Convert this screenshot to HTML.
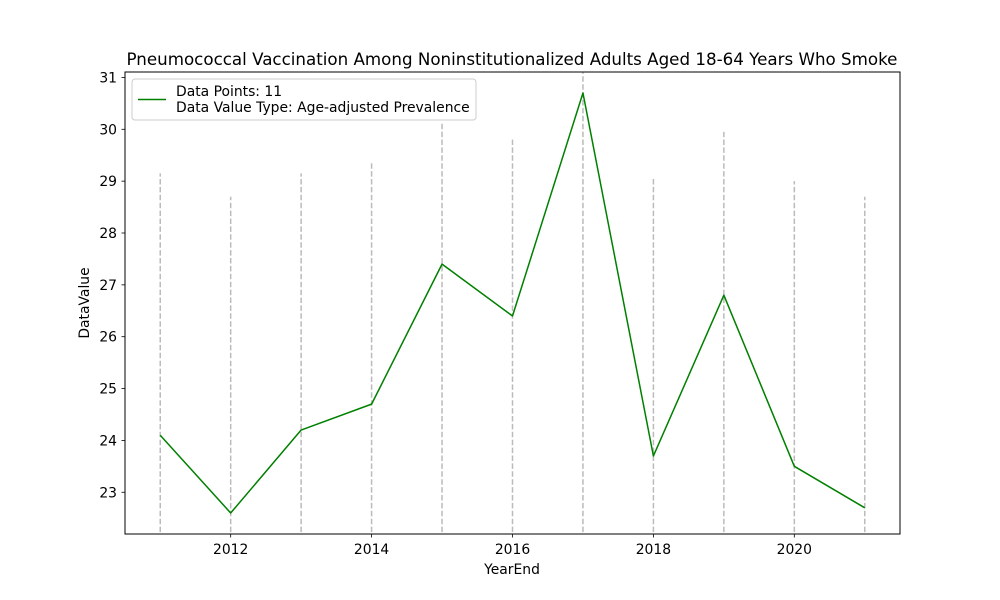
<!DOCTYPE html>
<html><head><meta charset="utf-8"><style>
html,body{margin:0;padding:0;background:#fff;width:1000px;height:600px;overflow:hidden;}
svg{display:block;font-family:"DejaVu Sans","Liberation Sans",sans-serif;}
</style></head><body>
<svg id="chart" width="1000" height="600" viewBox="0 0 1000 600">
<rect width="1000" height="600" fill="#fff"/>
<text x="512" y="65" text-anchor="middle" font-size="16.7" fill="#000">Pneumococcal Vaccination Among Noninstitutionalized Adults Aged 18-64 Years Who Smoke</text>
<defs><clipPath id="plotclip"><rect x="125" y="72" width="775" height="462"/></clipPath></defs>
<g id="vlines" clip-path="url(#plotclip)"></g>
<g id="series" clip-path="url(#plotclip)"></g>
<rect x="125" y="72" width="775" height="462" fill="none" stroke="#000" stroke-width="1"/>
<g id="xticks"></g>
<g id="yticks"></g>
<text x="512" y="574" text-anchor="middle" font-size="13.9">YearEnd</text>
<text x="0" y="0" transform="translate(89,303) rotate(-90)" text-anchor="middle" font-size="13.9">DataValue</text>
<g>
<rect x="132" y="79" width="344" height="41" rx="3" fill="#fff" fill-opacity="0.8" stroke="#ccc" stroke-width="1"/>
<line x1="138" y1="99.5" x2="166" y2="99.5" stroke="#008000" stroke-width="1.5"/>
<text x="176" y="96" font-size="13.9">Data Points: 11</text>
<text x="176" y="112" font-size="13.9">Data Value Type: Age-adjusted Prevalence</text>
</g>
</svg>
<script>
const years = [2011,2012,2013,2014,2015,2016,2017,2018,2019,2020,2021];
const values = [24.1,22.6,24.2,24.7,27.4,26.4,30.7,23.7,26.8,23.5,22.7];
const highCI = [29.15,28.7,29.15,29.35,30.15,29.8,31.5,29.05,29.95,29.0,28.7];
const lowCI = [18,18,18,18,18,18,18,18,18,18,18];
const xTickLabels = [2012,2014,2016,2018,2020];
const yTickLabels = [23,24,25,26,27,28,29,30,31];

const NS="http://www.w3.org/2000/svg";
const X0=2010.5,X1=2021.5,Y0=22.195,Y1=31.105;
function xs(v){return 125+(v-X0)/(X1-X0)*775;}
function ys(v){return 534-(v-Y0)/(Y1-Y0)*462;}
function mk(tag,attrs,parent){const e=document.createElementNS(NS,tag);for(const k in attrs)e.setAttribute(k,attrs[k]);parent.appendChild(e);return e;}

const vg=document.getElementById('vlines');
years.forEach((y,i)=>{
  const l=mk('line',{x1:xs(y),x2:xs(y),y1:Math.min(ys(lowCI[i]),540),y2:ys(highCI[i]),stroke:'#bbbbbb','stroke-width':1.5,'stroke-dasharray':'5.5 2.4'},vg);
  
  
});
const sg=document.getElementById('series');
const p=mk('polyline',{points:years.map((y,i)=>xs(y)+','+ys(values[i])).join(' '),fill:'none',stroke:'#008000','stroke-width':1.5,'stroke-linejoin':'round'},sg);



const xg=document.getElementById('xticks');
xTickLabels.forEach(t=>{
  const l=mk('line',{x1:xs(t),x2:xs(t),y1:534,y2:537.5,stroke:'#000','stroke-width':0.8},xg);
  
  
  const tx=mk('text',{x:xs(t),y:554,'text-anchor':'middle','font-size':13.9},xg);
  tx.textContent=t;
  
  
});
const yg=document.getElementById('yticks');
yTickLabels.forEach(t=>{
  const l=mk('line',{x1:121.5,x2:125,y1:ys(t),y2:ys(t),stroke:'#000','stroke-width':0.8},yg);
  
  
  const tx=mk('text',{x:117,y:ys(t)+5,'text-anchor':'end','font-size':13.9},yg);
  tx.textContent=t;
  
  
});
</script>
</body></html>
